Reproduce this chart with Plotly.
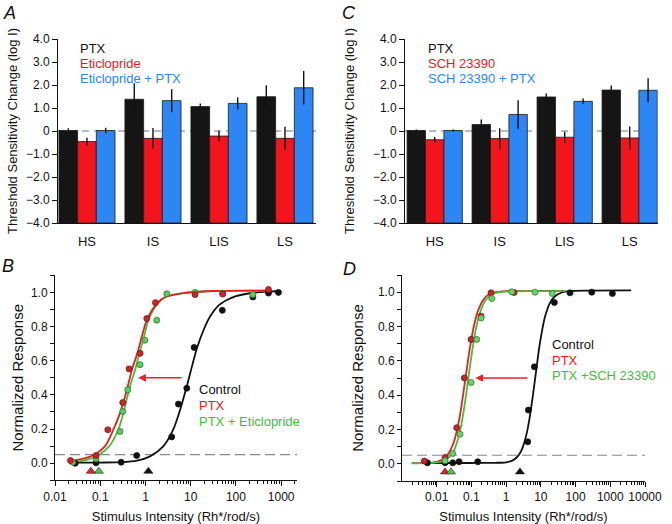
import math
import plotly.graph_objects as go

FONT = "Liberation Sans, Arial, Helvetica, sans-serif"
BLACK = "#151515"
RED = "#f4141c"
BLUE = "#2c86f4"
DKRED = "#c9262b"

# ---------------- Panel A (bars) ----------------
groups = ["HS", "IS", "LIS", "LS"]
a_ptx = [0.02, 1.38, 1.06, 1.49]
a_ptx_err = [0.10, 0.70, 0.14, 0.50]
a_etic = [-0.46, -0.32, -0.22, -0.32]
a_etic_err = [0.17, 0.45, 0.23, 0.50]
a_etic_ptx = [0.02, 1.32, 1.20, 1.88]
a_etic_ptx_err = [0.12, 0.50, 0.26, 0.73]

# ---------------- Panel C (bars) ----------------
c_ptx = [0.02, 0.28, 1.48, 1.78]
c_ptx_err = [0.05, 0.22, 0.15, 0.20]
c_sch = [-0.38, -0.33, -0.27, -0.30]
c_sch_err = [0.12, 0.45, 0.24, 0.50]
c_sch_ptx = [0.02, 0.72, 1.29, 1.77]
c_sch_ptx_err = [0.05, 0.62, 0.12, 0.52]

BAR_FLOOR = -4.0
bar_yticks = [4, 3, 2, 1, 0, -1, -2, -3, -4]
bar_yticklabels = ["4.0", "3.0", "2.0", "1.0", "0", "\u22121.0", "\u22122.0", "\u22123.0", "\u22124.0"]

# ---------------- Panel B (dose-response, eticlopride) ----------------
b_ctrl_x = [0.028, 0.081, 0.29, 0.64, 3.8, 5.35, 8.2, 11.9, 50, 237, 525, 870]
b_ctrl_y = [0.0, 0.002, 0.006, 0.045, 0.154, 0.346, 0.439, 0.678, 0.895, 0.973, 0.996, 1.0]
b_ptx_x = [0.022, 0.081, 0.147, 0.315, 0.434, 0.76, 1.07, 1.66, 12.5, 51, 525]
b_ptx_y = [0.016, 0.045, 0.196, 0.355, 0.552, 0.643, 0.847, 0.94, 0.987, 0.99, 1.017]
b_pe_x = [0.0247, 0.081, 0.274, 0.315, 0.406, 0.76, 0.97, 1.78, 2.96, 12.5, 51, 237]
b_pe_y = [0.006, 0.026, 0.186, 0.303, 0.43, 0.577, 0.72, 0.837, 0.992, 1.0, 0.996, 0.987]

b_ctrl_fit_x = [0.025, 0.1, 0.3, 0.65, 1.26, 2.5, 4.1, 5.8, 8.2, 11, 13.6, 20, 27, 40, 63, 100, 204, 500, 1000]
b_ctrl_fit_y = [0.004, 0.004, 0.006, 0.015, 0.04, 0.1, 0.196, 0.31, 0.45, 0.58, 0.67, 0.79, 0.86, 0.92, 0.955, 0.978, 0.995, 1.005, 1.008]
b_ptx_fit_x = [0.02, 0.04, 0.074, 0.128, 0.195, 0.274, 0.354, 0.44, 0.5, 0.66, 0.83, 1.07, 1.78, 2.72, 6.9, 30, 600]
b_ptx_fit_y = [0.01, 0.025, 0.05, 0.1, 0.196, 0.293, 0.39, 0.487, 0.546, 0.643, 0.74, 0.837, 0.934, 0.973, 0.996, 1.008, 1.01]
b_pe_fit_x = [0.02, 0.05, 0.095, 0.158, 0.25, 0.324, 0.398, 0.5, 0.59, 0.733, 0.93, 1.16, 1.85, 2.8, 7, 30, 600]
b_pe_fit_y = [0.004, 0.02, 0.05, 0.1, 0.196, 0.293, 0.39, 0.487, 0.546, 0.643, 0.74, 0.837, 0.934, 0.973, 0.996, 1.008, 1.01]

b_thresh_x = [1.16, 0.062, 0.093]   # Control, PTX, PTX + Eticlopride
b_arrow_from, b_arrow_to, arrow_level = 6.8, 0.69, 0.5

# ---------------- Panel D (dose-response, SCH 23390) ----------------
d_ctrl_x = [0.0054, 0.0174, 0.029, 0.044, 0.152, 4.19, 4.37, 6.5, 24.5, 69, 293, 1150]
d_ctrl_y = [0.006, 0.006, 0.006, 0.012, 0.012, 0.128, 0.313, 0.565, 0.94, 0.996, 1.0, 0.992]
d_ptx_x = [0.0044, 0.0174, 0.0377, 0.0625, 0.098, 0.189, 0.367, 1.69]
d_ptx_y = [0.016, 0.037, 0.21, 0.50, 0.725, 0.86, 0.996, 0.998]
d_ps_x = [0.0174, 0.0289, 0.0469, 0.098, 0.142, 0.19, 0.385, 1.45, 6.8, 21.4]
d_ps_y = [0.018, 0.06, 0.173, 0.474, 0.725, 0.85, 0.963, 1.002, 1.0, 0.992]

d_ctrl_fit_x = [0.0045, 0.1, 0.5, 1, 1.5, 2, 2.5, 3, 4, 5, 6, 7, 8.5, 10, 13, 18, 25, 40, 70, 200, 4000]
d_ctrl_fit_y = [0.005, 0.005, 0.006, 0.009, 0.019, 0.037, 0.062, 0.096, 0.186, 0.297, 0.41, 0.512, 0.643, 0.737, 0.852, 0.935, 0.975, 0.998, 1.006, 1.009, 1.01]
d_ptx_fit_x = [0.0019, 0.005, 0.01, 0.015, 0.02, 0.03, 0.04, 0.05, 0.068, 0.09, 0.12, 0.16, 0.22, 0.3, 0.5, 1, 50]
d_ptx_fit_y = [0.004, 0.005, 0.012, 0.026, 0.049, 0.117, 0.212, 0.318, 0.505, 0.673, 0.81, 0.9, 0.955, 0.983, 1.0, 1.006, 1.007]
d_ps_fit_x = [0.0019, 0.005, 0.01, 0.015, 0.02, 0.03, 0.04, 0.05, 0.065, 0.082, 0.1, 0.13, 0.17, 0.22, 0.3, 0.5, 1, 50]
d_ps_fit_y = [0.003, 0.004, 0.008, 0.015, 0.028, 0.07, 0.137, 0.218, 0.355, 0.505, 0.628, 0.77, 0.87, 0.93, 0.97, 0.996, 1.004, 1.006]

d_thresh_x = [2.5, 0.0174, 0.0258]   # Control, PTX, PTX + SCH 23390
d_arrow_from, d_arrow_to = 4.48, 0.129

THRESHOLD = 0.05
TRI_LEVEL = -0.047
resp_ticks = [0.0, 0.2, 0.4, 0.6, 0.8, 1.0]
resp_ticklabels = ["0.0", "0.2", "0.4", "0.6", "0.8", "1.0"]
b_xticks = [0.01, 0.1, 1, 10, 100, 1000]
b_xticklabels = ["0.01", "0.1", "1", "10", "100", "1000"]
d_xticks = [0.01, 0.1, 1, 10, 100, 1000, 10000]
d_xticklabels = ["0.01", "0.1", "1", "10", "100", "1000", "10000"]

fig = go.Figure()

# ---- bars ----
def add_bars(vals, errs, color, xa, ya):
    fig.add_trace(go.Bar(
        x=groups, y=[v - BAR_FLOOR for v in vals], base=BAR_FLOOR,
        marker=dict(color=color, line=dict(color="#1a1a1a", width=0.8)),
        error_y=dict(type="data", array=errs, thickness=1.4, width=0, color="#111111"),
        xaxis=xa, yaxis=ya, showlegend=False))

add_bars(a_ptx, a_ptx_err, BLACK, "x", "y")
add_bars(a_etic, a_etic_err, RED, "x", "y")
add_bars(a_etic_ptx, a_etic_ptx_err, BLUE, "x", "y")
add_bars(c_ptx, c_ptx_err, BLACK, "x2", "y2")
add_bars(c_sch, c_sch_err, RED, "x2", "y2")
add_bars(c_sch_ptx, c_sch_ptx_err, BLUE, "x2", "y2")

# ---- dose-response ----
def add_curve(x, y, color, xa, ya):
    fig.add_trace(go.Scatter(x=x, y=y, mode="lines", line=dict(color=color, width=1.8, shape="spline", smoothing=0.8),
                             xaxis=xa, yaxis=ya, showlegend=False, hoverinfo="skip"))

def add_points(x, y, fill, edge, xa, ya):
    fig.add_trace(go.Scatter(x=x, y=y, mode="markers",
                             marker=dict(size=6, color=fill, line=dict(color=edge, width=0.8)),
                             xaxis=xa, yaxis=ya, showlegend=False))

def add_tri(x, fill, xa, ya):
    fig.add_trace(go.Scatter(x=[x], y=[TRI_LEVEL], mode="markers",
                             marker=dict(symbol="triangle-up", size=8, color=fill, line=dict(color="#222", width=0.6)),
                             xaxis=xa, yaxis=ya, showlegend=False))

# B
add_curve(b_ctrl_fit_x, b_ctrl_fit_y, "#111111", "x3", "y3")
add_curve(b_pe_fit_x, b_pe_fit_y, "#3fbf3f", "x3", "y3")
add_curve(b_ptx_fit_x, b_ptx_fit_y, "#e8201c", "x3", "y3")
add_points(b_ctrl_x, b_ctrl_y, "#111111", "#111111", "x3", "y3")
add_points(b_pe_x, b_pe_y, "#5ccc5c", "#2b7a2b", "x3", "y3")
add_points(b_ptx_x, b_ptx_y, DKRED, "#7a1414", "x3", "y3")
add_tri(b_thresh_x[0], "#111111", "x3", "y3")
add_tri(b_thresh_x[1], "#e8202a", "x3", "y3")
add_tri(b_thresh_x[2], "#4cc44c", "x3", "y3")

# D
add_curve(d_ctrl_fit_x, d_ctrl_fit_y, "#111111", "x4", "y4")
add_curve(d_ptx_fit_x, d_ptx_fit_y, "#e8201c", "x4", "y4")
add_curve(d_ps_fit_x, d_ps_fit_y, "#3fbf3f", "x4", "y4")
add_points(d_ctrl_x, d_ctrl_y, "#111111", "#111111", "x4", "y4")
add_points(d_ptx_x, d_ptx_y, DKRED, "#7a1414", "x4", "y4")
add_points(d_ps_x, d_ps_y, "#6ad46a", "#2b7a2b", "x4", "y4")
add_tri(d_thresh_x[1], "#e8202a", "x4", "y4")
add_tri(d_thresh_x[2], "#4cc44c", "x4", "y4")
add_tri(d_thresh_x[0], "#111111", "x4", "y4")

# body margin is removed by the post script, so window pixels == figure pixels
W, H = 672, 524
def fx(a, b):
    return [a / W, b / W]
def fy(top, bottom):
    return [1 - bottom / H, 1 - top / H]

tickfont = dict(family=FONT, size=12, color="#111")
axis_common = dict(showline=True, linecolor="#111", linewidth=1, showgrid=False, zeroline=False,
                   automargin=False, tickfont=tickfont, tickcolor="#111")

minor_b = [m * 10 ** e for e in range(-2, 4) for m in range(2, 10)]
minor_d = [m * 10 ** e for e in range(-3, 4) for m in range(2, 10)]

fig.update_layout(
    width=W, height=H, template="none",
    margin=dict(l=0, r=0, t=0, b=0),
    paper_bgcolor="white", plot_bgcolor="white",
    font=dict(family=FONT, color="#111"),
    barmode="group", bargap=0.15, bargroupgap=0,
    showlegend=False,
    xaxis=dict(axis_common, domain=fx(58, 316), anchor="y", type="category", range=[-0.439, 3.47],
               ticks="outside", ticklen=6, tickcolor="rgba(0,0,0,0)", tickfont=dict(family=FONT, size=13, color="#111")),
    yaxis=dict(axis_common, domain=fy(39, 223), anchor="x", range=[-4, 4],
               tickmode="array", tickvals=bar_yticks, ticktext=bar_yticklabels, ticks="outside", ticklen=5,
               title=dict(text="Threshold Sensitivity Change (log I)", font=dict(family=FONT, size=13), standoff=5)),
    xaxis2=dict(axis_common, domain=fx(405, 657.7), anchor="y2", type="category", range=[-0.457, 3.431],
                ticks="outside", ticklen=6, tickcolor="rgba(0,0,0,0)", tickfont=dict(family=FONT, size=13, color="#111")),
    yaxis2=dict(axis_common, domain=fy(39, 223), anchor="x2", range=[-4, 4],
                tickmode="array", tickvals=bar_yticks, ticktext=bar_yticklabels, ticks="outside", ticklen=5,
                title=dict(text="Threshold Sensitivity Change (log I)", font=dict(family=FONT, size=13), standoff=15)),
    xaxis3=dict(axis_common, domain=fx(55, 297), anchor="y3", type="log", range=[-2, 3.35],
                tickmode="array", tickvals=b_xticks, ticktext=b_xticklabels, ticks="outside", ticklen=5,
                minor=dict(tickvals=minor_b, ticks="outside", ticklen=3, tickcolor="#111"),
                title=dict(text="Stimulus Intensity (Rh*/rod/s)", font=dict(family=FONT, size=13), standoff=11)),
    yaxis3=dict(axis_common, domain=fy(275.3, 480.3), anchor="x3", range=[-0.1, 1.1],
                tickmode="array", tickvals=resp_ticks, ticktext=resp_ticklabels, ticks="outside", ticklen=4,
                minor=dict(dtick=0.1, tick0=0, ticks="outside", ticklen=4, tickcolor="#111"),
                title=dict(text="Normalized Response", font=dict(family=FONT, size=15), standoff=3)),
    xaxis4=dict(axis_common, domain=fx(402, 645), anchor="y4", type="log", range=[-3, 4],
                tickmode="array", tickvals=d_xticks, ticktext=d_xticklabels, ticks="outside", ticklen=5,
                minor=dict(tickvals=minor_d, ticks="outside", ticklen=3, tickcolor="#111"),
                title=dict(text="Stimulus Intensity (Rh*/rod/s)", font=dict(family=FONT, size=13), standoff=11)),
    yaxis4=dict(axis_common, domain=fy(275, 481), anchor="x4", range=[-0.1, 1.1],
                tickmode="array", tickvals=resp_ticks, ticktext=resp_ticklabels, ticks="outside", ticklen=4,
                minor=dict(dtick=0.1, tick0=0, ticks="outside", ticklen=4, tickcolor="#111"),
                title=dict(text="Normalized Response", font=dict(family=FONT, size=15), standoff=10)),
)

# reference lines
for ya in ["y", "y2"]:
    xa = "x" if ya == "y" else "x2"
    fig.add_shape(type="line", xref=f"{xa} domain", yref=ya, x0=0, x1=1, y0=0, y1=0,
                  line=dict(color="#777", width=1, dash="7px,5px"), layer="below")
for xa, ya in [("x3", "y3"), ("x4", "y4")]:
    fig.add_shape(type="line", xref=f"{xa} domain", yref=ya, x0=0, x1=1, y0=THRESHOLD, y1=THRESHOLD,
                  line=dict(color="#888", width=1.2, dash="10px,5px"), layer="below")

# arrows
fig.add_annotation(x=math.log10(b_arrow_to), y=arrow_level, ax=math.log10(b_arrow_from), ay=arrow_level,
                   xref="x3", yref="y3", axref="x3", ayref="y3", text="", showarrow=True,
                   arrowhead=2, arrowsize=1.1, arrowwidth=1.4, arrowcolor="#f02020")
fig.add_annotation(x=math.log10(d_arrow_to), y=arrow_level, ax=math.log10(d_arrow_from), ay=arrow_level,
                   xref="x4", yref="y4", axref="x4", ayref="y4", text="", showarrow=True,
                   arrowhead=2, arrowsize=1.1, arrowwidth=1.4, arrowcolor="#f02020")

def txt(x, y, s, color, size=13, italic=False):
    fig.add_annotation(x=x / W, y=1 - y / H, xref="paper", yref="paper",
                       text=(f"<i>{s}</i>" if italic else s),
                       showarrow=False, xanchor="left", yanchor="middle",
                       font=dict(family=FONT, size=size, color=color))

# legends
txt(78, 48, "PTX", "#111")
txt(78, 63.5, "Eticlopride", RED)
txt(78, 79, "Eticlopride + PTX", BLUE)
txt(426, 48, "PTX", "#111")
txt(426, 63.5, "SCH 23390", RED)
txt(426, 78.5, "SCH 23390 + PTX", BLUE)
txt(197, 389, "Control", "#111")
txt(197, 405, "PTX", RED)
txt(197, 421, "PTX + Eticlopride", "#3cbf3c")
txt(550, 344, "Control", "#111")
txt(550, 360, "PTX", RED)
txt(550, 375.5, "PTX +SCH 23390", "#3cbf3c")

# panel letters
txt(1, 13, "A", "#111", size=18, italic=True)
txt(340, 13, "C", "#111", size=18, italic=True)
txt(0, 266, "B", "#111", size=18, italic=True)
txt(341, 269, "D", "#111", size=18, italic=True)

fig.write_html("out.html", config={"displayModeBar": False},
               post_script="document.body.style.margin='0';document.body.style.overflow='hidden';")
